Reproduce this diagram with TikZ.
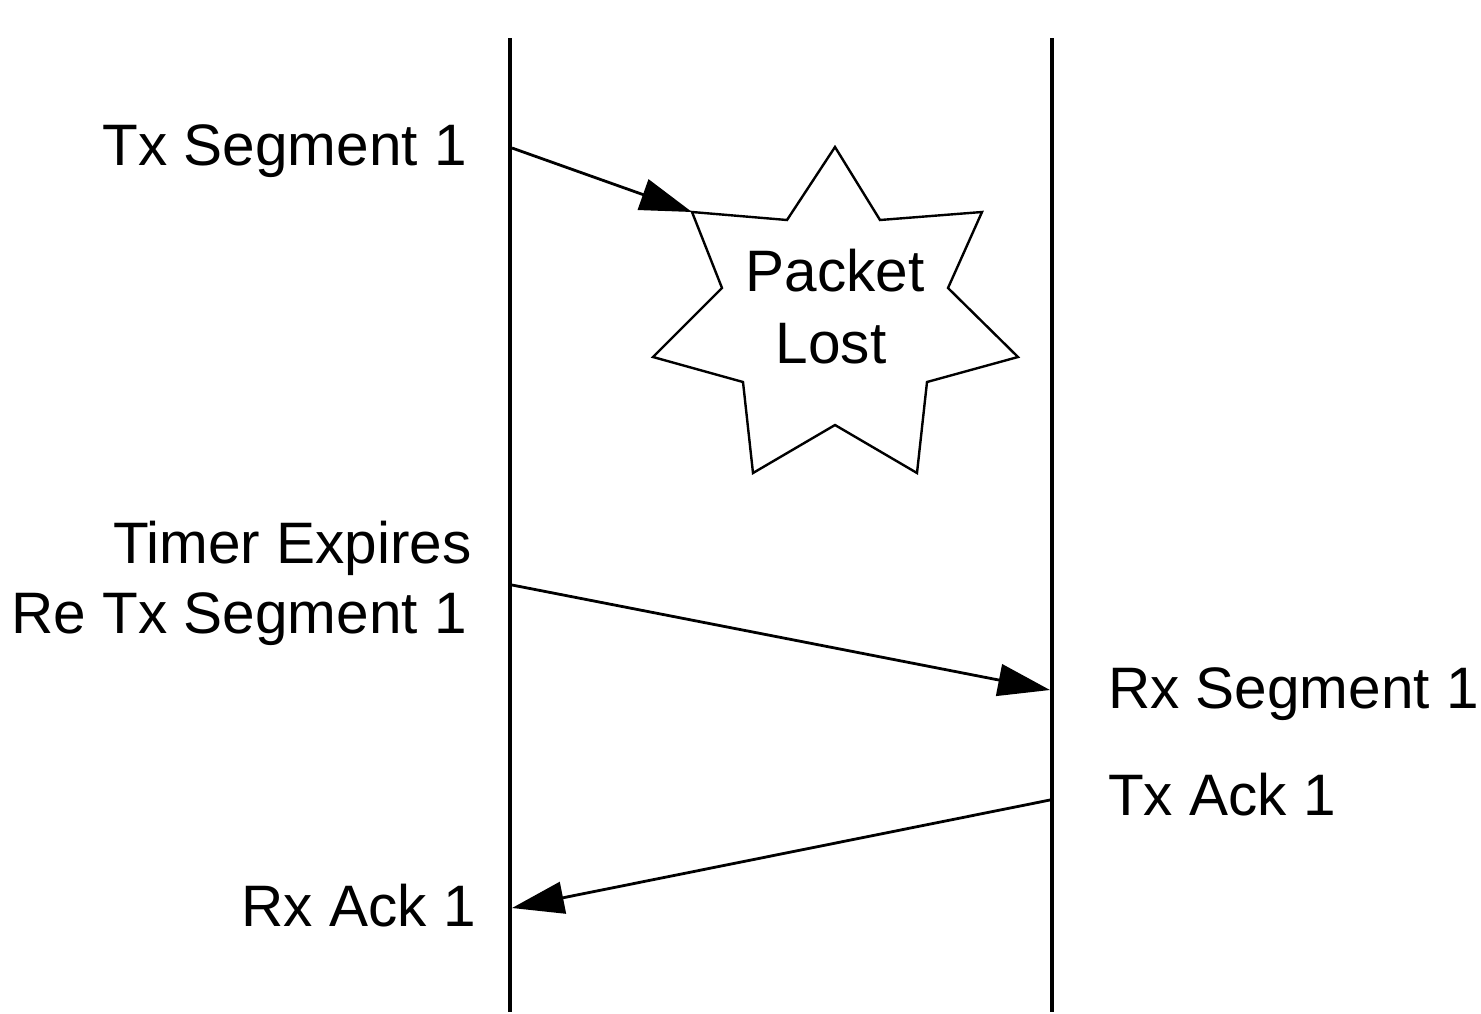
\documentclass[tikz,border=0pt]{standalone}
\usepackage{fontspec}
\setmainfont{Liberation Sans}
\usetikzlibrary{arrows.meta}
\begin{document}
\begin{tikzpicture}[x=1pt,y=-1pt,
  lbl/.style={font=\fontsize{58.5}{70}\selectfont, inner sep=0pt},
  life/.style={line width=3.6pt},
  msg/.style={line width=2.8pt, -{Triangle[length=52pt,width=32pt]}},
  starline/.style={line width=2.4pt, line join=miter}]
\useasboundingbox (0,0) rectangle (1481,1013);
% lifelines
\coordinate (Atop) at (510,38);
\coordinate (Abot) at (510,1012);
\coordinate (Btop) at (1052,38);
\coordinate (Bbot) at (1052,1012);
\draw[life] (Atop) -- (Abot);
\draw[life] (Btop) -- (Bbot);
% star (packet lost)
\coordinate (s1) at (835,147);
\coordinate (i1) at (880,220);
\coordinate (s2) at (982,212);
\coordinate (i2) at (948,288);
\coordinate (s3) at (1018,357);
\coordinate (i3) at (927,382);
\coordinate (s4) at (917,473);
\coordinate (i4) at (835,425);
\coordinate (s5) at (753,473);
\coordinate (i5) at (743,382);
\coordinate (s6) at (653,357);
\coordinate (i6) at (722,288);
\coordinate (s7) at (692,212);
\coordinate (i7) at (787,220);
\draw[starline] (s1) -- (i1) -- (s2) -- (i2) -- (s3) -- (i3) -- (s4) -- (i4) -- (s5) -- (i5) -- (s6) -- (i6) -- (s7) -- (i7) -- cycle;
\node[lbl, anchor=base] (pk) at (835,291) {Packet};
\node[lbl, anchor=base] (lo) at (831,363) {Lost};
% message end points
\coordinate (a1) at (512,148);
\coordinate (a2) at (512,585);
\coordinate (b2) at (1050,690);
\coordinate (b3) at (1050,800);
\coordinate (a3) at (512,908);
\draw[msg] (a1) -- (s7);
\draw[msg] (a2) -- (b2);
\draw[msg] (b3) -- (a3);
% labels
\node[lbl, anchor=base east] (t1) at (467,165) {Tx Segment 1};
\node[lbl, anchor=base east] (t2) at (472,563) {Timer Expires};
\node[lbl, anchor=base east] (t3) at (467,633) {Re Tx Segment 1};
\node[lbl, anchor=base west] (t4) at (1108,708) {Rx Segment 1};
\node[lbl, anchor=base west] (t5) at (1108,815) {Tx Ack 1};
\node[lbl, anchor=base east] (t6) at (476,926) {Rx Ack 1};
\end{tikzpicture}
\end{document}
